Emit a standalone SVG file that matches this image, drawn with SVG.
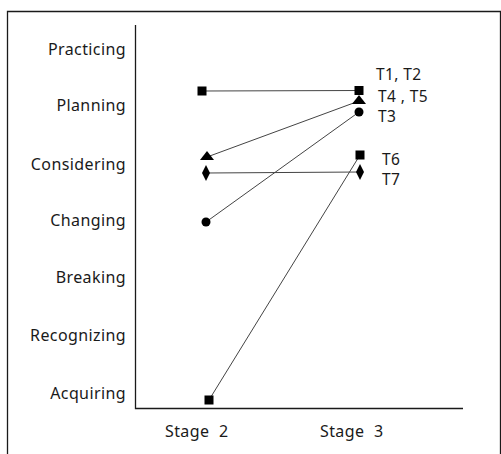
<svg xmlns="http://www.w3.org/2000/svg" width="501" height="454" viewBox="0 0 501 454">
<style>
text{font-family:"Noto Sans","Open Sans","Liberation Sans",sans-serif;font-size:16px;fill:#1a1a1a;letter-spacing:0.4px}
.cat{text-anchor:end}
.stg{word-spacing:5px}
.tl{font-size:15.5px}
.ax{stroke:#1a1a1a;stroke-width:1.3;fill:none}
.ln{stroke:#444;stroke-width:1}
.m{fill:#000}
</style>
<rect width="501" height="454" fill="#fff"/>
<path class="ax" d="M7.5 460 V11.5 H500.5 V460"/>
<path class="ax" d="M135.5 25 V408.5 H463"/>
<g id="yaxis-labels">
<text class="cat" x="126" y="55">Practicing</text>
<text class="cat" x="126" y="111">Planning</text>
<text class="cat" x="126" y="170">Considering</text>
<text class="cat" x="126" y="226">Changing</text>
<text class="cat" x="126" y="283">Breaking</text>
<text class="cat" x="126" y="341">Recognizing</text>
<text class="cat" x="126" y="399">Acquiring</text>
</g>
<g id="xaxis-labels">
<text class="stg" x="165" y="437">Stage 2</text>
<text class="stg" x="320" y="437">Stage 3</text>
</g>
<g id="connectors">
<line class="ln" x1="202" y1="91" x2="359" y2="90.5"/>
<line class="ln" x1="207" y1="157" x2="359" y2="101"/>
<line class="ln" x1="206" y1="222" x2="359" y2="112"/>
<line class="ln" x1="206" y1="173" x2="360" y2="172"/>
<line class="ln" x1="209" y1="400" x2="360" y2="155"/>
</g>
<g id="T1T2">
<rect class="m" x="197.5" y="86.5" width="9" height="9"/>
<rect class="m" x="354.5" y="86" width="9" height="9"/>
<text class="tl" x="376" y="80">T1, T2</text>
</g>
<g id="T4T5">
<polygon class="m" points="207,151 214,160 200,160"/>
<polygon class="m" points="359,95 366,104 352,104"/>
<text class="tl" x="378" y="102">T4 , T5</text>
</g>
<g id="T3">
<circle class="m" cx="206" cy="222" r="4.5"/>
<circle class="m" cx="359" cy="112" r="4.5"/>
<text class="tl" x="378" y="122">T3</text>
</g>
<g id="T6">
<rect class="m" x="355.5" y="150.5" width="9" height="9"/>
<rect class="m" x="204.5" y="395.5" width="9" height="9"/>
<text class="tl" x="382" y="165">T6</text>
</g>
<g id="T7">
<polygon class="m" points="206,165 210,173 206,181 202,173"/>
<polygon class="m" points="360,164 364,172 360,180 356,172"/>
<text class="tl" x="382" y="185">T7</text>
</g>
</svg>
